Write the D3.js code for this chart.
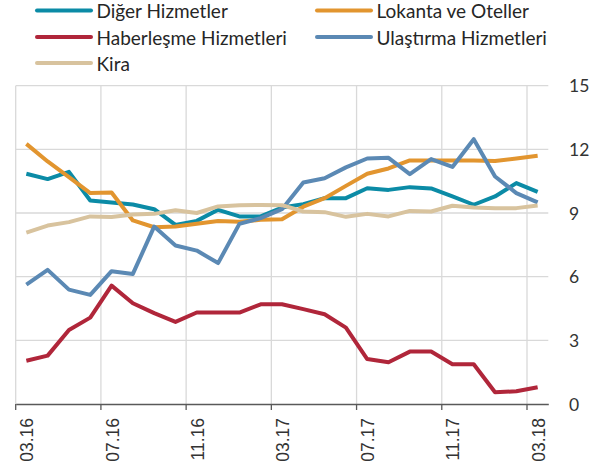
<!DOCTYPE html>
<html>
<head>
<meta charset="utf-8">
<script src="https://cdn.jsdelivr.net/npm/d3@7"></script>
<style>
  body { margin: 0; background: #fff; }
  svg { display: block; }
</style>
</head>
<body>
<svg id="chart" width="604" height="474"></svg>
<script>
// months on the x axis
var months = ["03.16","04.16","05.16","06.16","07.16","08.16","09.16","10.16","11.16","12.16",
              "01.17","02.17","03.17","04.17","05.17","06.17","07.17","08.17","09.17","10.17",
              "11.17","12.17","01.18","02.18","03.18"];

var diger     = [10.85,10.6,10.94,9.59,9.5,9.4,9.18,8.44,8.63,9.15,8.84,8.84,9.26,9.42,9.7,9.7,10.17,10.09,10.22,10.16,9.78,9.39,9.78,10.41,10.0];
var lokanta   = [12.26,11.43,10.69,9.94,9.97,8.65,8.33,8.36,8.49,8.62,8.59,8.68,8.71,9.3,9.7,10.28,10.85,11.1,11.48,11.48,11.48,11.48,11.45,11.57,11.7];
var haber     = [2.04,2.28,3.49,4.07,5.58,4.75,4.28,3.87,4.31,4.31,4.31,4.7,4.7,4.47,4.23,3.6,2.12,1.97,2.47,2.47,1.87,1.87,0.55,0.6,0.79];
var ulastirma = [5.63,6.32,5.39,5.14,6.26,6.13,8.36,7.47,7.23,6.64,8.49,8.76,9.18,10.44,10.64,11.15,11.57,11.6,10.83,11.54,11.17,12.48,10.72,9.94,9.5];
var kira      = [8.08,8.41,8.57,8.84,8.81,8.93,8.96,9.13,9.0,9.31,9.37,9.38,9.37,9.07,9.04,8.82,8.96,8.84,9.1,9.07,9.34,9.26,9.23,9.23,9.35];

var yTicks = [0, 3, 6, 9, 12, 15];

var series = [
  { name: "Diğer Hizmetler",      values: diger,     color: "#0b8ba6" },
  { name: "Lokanta ve Oteller",   values: lokanta,   color: "#e2952f" },
  { name: "Haberleşme Hizmetleri", values: haber,    color: "#b0263a" },
  { name: "Ulaştırma Hizmetleri", values: ulastirma, color: "#5b89b4" },
  { name: "Kira",                 values: kira,      color: "#d8c39e" }
];

var svg = d3.select("#chart");
var plotLeft = 15.7, plotRight = 548.3, plotTop = 85.7, plotBottom = 404;

var x = d3.scaleBand().domain(months).range([plotLeft, plotRight]).padding(0);
var y = d3.scaleLinear().domain([0, 15]).range([plotBottom, plotTop]);

var tickMonths = months.filter(function(d, i) { return i % 4 === 0; });

// grid
var grid = svg.append("g").attr("stroke", "#d9d9d9").attr("stroke-width", 1.3);
grid.selectAll("line.h").data(yTicks.filter(function(d) { return d > 0; }))
  .enter().append("line")
    .attr("x1", plotLeft).attr("x2", plotRight)
    .attr("y1", function(d) { return y(d); })
    .attr("y2", function(d) { return y(d); });
grid.selectAll("line.v").data(tickMonths)
  .enter().append("line")
    .attr("x1", function(d) { return x(d); })
    .attr("x2", function(d) { return x(d); })
    .attr("y1", plotTop).attr("y2", plotBottom);

// x axis
var xAxis = d3.axisBottom(x).tickValues(tickMonths).tickSize(6).tickSizeOuter(0).tickFormat("");
var gx = svg.append("g").attr("transform", "translate(0," + plotBottom + ")").call(xAxis);
gx.select(".domain").attr("stroke", "#595959").attr("stroke-width", 1.3);
gx.selectAll(".tick line").attr("stroke", "#595959").attr("stroke-width", 1.3)
  .attr("transform", function() { return "translate(" + (-x.bandwidth() / 2) + ",0)"; });

svg.append("g").selectAll("text").data(tickMonths)
  .enter().append("text")
    .attr("transform", function(d) {
      return "translate(" + (x(d) + x.bandwidth() / 2 + 1) + "," + 418 + ") rotate(-90)";
    })
    .attr("text-anchor", "end")
    .attr("dominant-baseline", "central")
    .style("font-family", "'Liberation Sans', Arial, sans-serif")
    .style("font-size", "17.5px")
    .style("fill", "#333")
    .text(function(d) { return d; });

// y labels on the right
svg.append("g").selectAll("text").data(yTicks)
  .enter().append("text")
    .attr("x", 569)
    .attr("y", function(d) { return y(d); })
    .attr("dominant-baseline", "central")
    .style("font-family", "Lato, sans-serif")
    .style("font-size", "17.5px")
    .style("fill", "#333")
    .text(function(d) { return d; });

// lines
var line = d3.line()
  .x(function(d, i) { return x(months[i]) + x.bandwidth() / 2; })
  .y(function(d) { return y(d); });

svg.append("g").selectAll("path").data(series)
  .enter().append("path")
    .attr("fill", "none")
    .attr("stroke", function(d) { return d.color; })
    .attr("stroke-width", 4)
    .attr("stroke-linejoin", "round")
    .attr("d", function(d) { return line(d.values); });

// legend
var legendPos = [[37, 10.5], [317, 10.5], [37, 37], [317, 37], [37, 63]];
var lg = svg.append("g").selectAll("g").data(series)
  .enter().append("g")
    .attr("transform", function(d, i) { return "translate(" + legendPos[i][0] + "," + legendPos[i][1] + ")"; });
lg.append("line")
  .attr("x1", 0).attr("x2", 54)
  .attr("stroke", function(d) { return d.color; })
  .attr("stroke-width", 4)
  .attr("stroke-linecap", "round");
lg.append("text")
  .attr("x", 59.5)
  .attr("dominant-baseline", "central")
  .style("font-family", "Lato, sans-serif")
  .style("font-size", "19px")
  .style("fill", "#262626")
  .text(function(d) { return d.name; });
</script>
</body>
</html>
